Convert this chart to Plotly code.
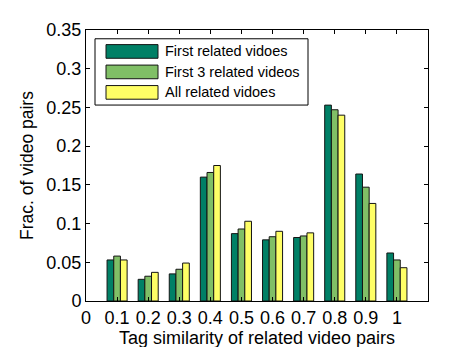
import plotly.graph_objects as go

categories = [0.1, 0.2, 0.3, 0.4, 0.5, 0.6, 0.7, 0.8, 0.9, 1.0]
first_related = [0.053, 0.028, 0.035, 0.160, 0.087, 0.079, 0.082, 0.253, 0.164, 0.062]
first3_related = [0.058, 0.032, 0.041, 0.166, 0.093, 0.083, 0.084, 0.247, 0.147, 0.053]
all_related = [0.053, 0.037, 0.049, 0.175, 0.103, 0.090, 0.088, 0.240, 0.126, 0.043]
series_names = ["First related vidoes", "First 3 related videos", "All related vidoes"]
x_tick_vals = [0, 0.1, 0.2, 0.3, 0.4, 0.5, 0.6, 0.7, 0.8, 0.9, 1.0]
x_tick_text = ["0", "0.1", "0.2", "0.3", "0.4", "0.5", "0.6", "0.7", "0.8", "0.9", "1"]
y_tick_vals = [0, 0.05, 0.1, 0.15, 0.2, 0.25, 0.3, 0.35]
y_tick_text = ["0", "0.05", "0.1", "0.15", "0.2", "0.25", "0.3", "0.35"]

colors = ["rgb(0,128,102)", "rgb(128,191,102)", "rgb(255,255,102)"]
EDGE = "rgb(20,20,20)"
FONT = "Liberation Sans, Arial, Helvetica, sans-serif"

W, H = 457, 347
ML, MR, MT, MB = 78, 37, 15, 54
PW, PH = W - ML - MR, H - MT - MB


def px(xp):
    return (xp - ML) / PW


def py(yp):
    return (H - MB - yp) / PH


fig = go.Figure()
for name, vals, col in zip(series_names, [first_related, first3_related, all_related], colors):
    fig.add_trace(go.Bar(
        x=categories, y=vals, name=name, showlegend=False,
        marker=dict(color=col, line=dict(color=EDGE, width=1)),
    ))

# legend drawn as a boxed key (MATLAB style wide patches)
shapes = [dict(type="rect", xref="paper", yref="paper",
               x0=px(87), x1=px(300), y0=py(92), y1=py(24),
               line=dict(color="black", width=1), fillcolor="white", layer="above")]
annotations = []
row_y = [37, 58, 79]
for name, col, yc in zip(series_names, colors, row_y):
    shapes.append(dict(type="rect", xref="paper", yref="paper",
                       x0=px(98), x1=px(150), y0=py(yc + 7), y1=py(yc - 7),
                       line=dict(color=EDGE, width=1), fillcolor=col, layer="above"))
    annotations.append(dict(xref="paper", yref="paper", x=px(155), y=py(yc),
                            xanchor="left", yanchor="middle", text=name, showarrow=False,
                            font=dict(family=FONT, size=14.5, color="black")))

fig.update_layout(
    width=W, height=H,
    margin=dict(l=ML, r=MR, t=MT, b=MB),
    paper_bgcolor="white", plot_bgcolor="white",
    barmode="group", bargap=0.355, bargroupgap=0,
    font=dict(family=FONT, size=18, color="black"),
    showlegend=False,
    shapes=shapes, annotations=annotations,
    xaxis=dict(
        range=[0, 1.1], tickmode="array", tickvals=x_tick_vals, ticktext=x_tick_text,
        showgrid=False, zeroline=False, showline=True, linecolor="black", linewidth=1,
        mirror="ticks", ticks="inside", ticklen=4, tickcolor="black",
        title=dict(text="Tag similarity of related video pairs", font=dict(size=18), standoff=2),
        tickfont=dict(size=18),
    ),
    yaxis=dict(
        range=[0, 0.35], tickmode="array", tickvals=y_tick_vals, ticktext=y_tick_text,
        showgrid=False, zeroline=False, showline=True, linecolor="black", linewidth=1,
        mirror="ticks", ticks="inside", ticklen=4, tickcolor="black",
        title=dict(text="Frac. of video pairs", font=dict(size=17.5), standoff=8),
        tickfont=dict(size=18),
    ),
)

fig.write_html("out.html")
